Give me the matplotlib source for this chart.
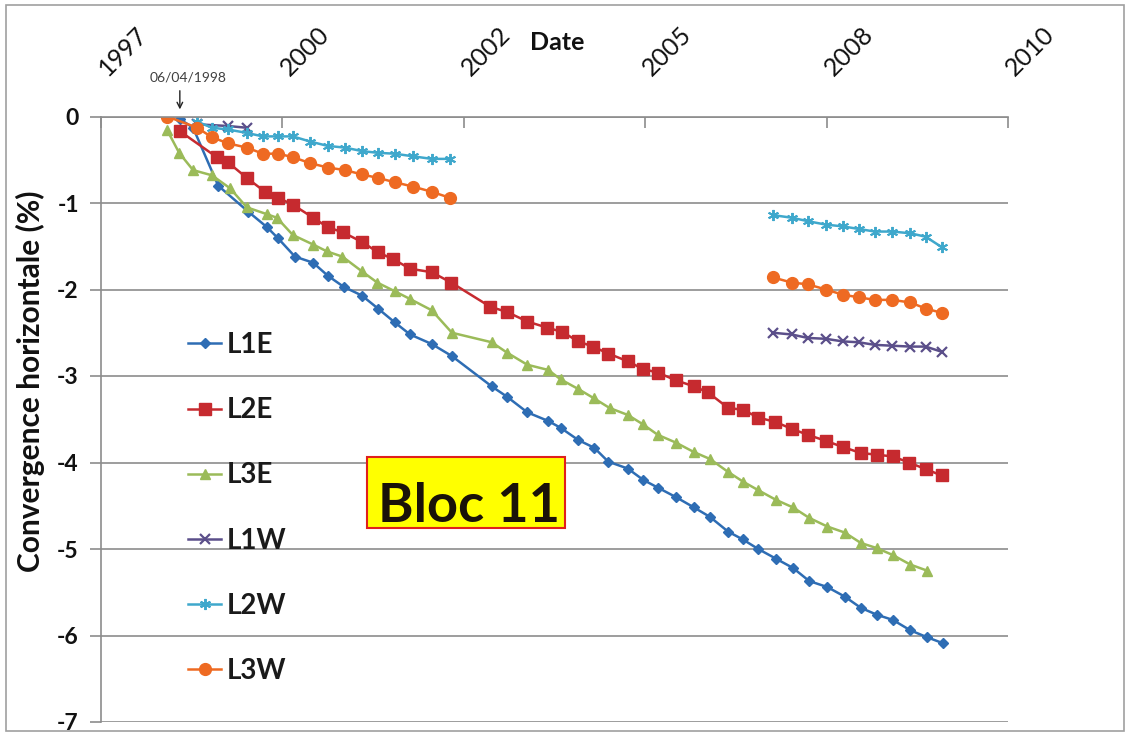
import numpy as np
import matplotlib.pyplot as plt
from matplotlib.patches import Rectangle
from matplotlib.transforms import offset_copy

plt.rcParams["font.family"] = ["Lato", "DejaVu Sans"]
plt.rcParams["axes.unicode_minus"] = False

nan = np.nan

# dates as decimal years, convergence in %
l1e_x = [1998.73, 1998.92, 1999.28, 1999.71, 1999.98, 2000.14, 2000.38, 2000.64, 2000.85,
         2001.08, 2001.34, 2001.57, 2001.81, 2002.03, 2002.34, 2002.63, 2003.20, 2003.42,
         2003.71, 2004.01, 2004.19, 2004.44, 2004.67, 2004.87, 2005.15, 2005.37, 2005.58,
         2005.84, 2006.10, 2006.33, 2006.59, 2006.80, 2007.02, 2007.27, 2007.52, 2007.75,
         2008.01, 2008.26, 2008.49, 2008.72, 2008.95, 2009.20, 2009.44, 2009.67]
l1e_y = [-0.03, -0.13, -0.80, -1.10, -1.28, -1.41, -1.62, -1.69, -1.84,
         -1.97, -2.07, -2.22, -2.38, -2.52, -2.63, -2.77, -3.12, -3.24,
         -3.42, -3.52, -3.60, -3.74, -3.83, -3.99, -4.07, -4.20, -4.29,
         -4.40, -4.52, -4.63, -4.80, -4.89, -5.00, -5.11, -5.22, -5.37,
         -5.44, -5.55, -5.68, -5.76, -5.82, -5.94, -6.02, -6.09]

l2e_x = [1998.73, 1999.26, 1999.42, 1999.69, 1999.95, 2000.14, 2000.35, 2000.64, 2000.85,
         2001.07, 2001.34, 2001.57, 2001.79, 2002.03, 2002.34, 2002.62, 2003.18, 2003.42,
         2003.71, 2003.99, 2004.21, 2004.44, 2004.65, 2004.87, 2005.15, 2005.37, 2005.58,
         2005.84, 2006.10, 2006.30, 2006.59, 2006.80, 2007.02, 2007.26, 2007.50, 2007.73,
         2007.99, 2008.23, 2008.49, 2008.72, 2008.95, 2009.18, 2009.43, 2009.65]
l2e_y = [-0.17, -0.47, -0.53, -0.71, -0.87, -0.94, -1.02, -1.17, -1.28,
         -1.34, -1.45, -1.57, -1.65, -1.76, -1.80, -1.92, -2.20, -2.26,
         -2.37, -2.44, -2.49, -2.60, -2.66, -2.74, -2.83, -2.92, -2.96,
         -3.05, -3.12, -3.19, -3.37, -3.39, -3.48, -3.53, -3.61, -3.68,
         -3.75, -3.82, -3.89, -3.91, -3.93, -4.00, -4.08, -4.15]

l3e_x = [1998.55, 1998.72, 1998.92, 1999.19, 1999.45, 1999.69, 1999.98, 2000.12, 2000.35,
         2000.64, 2000.84, 2001.06, 2001.34, 2001.56, 2001.81, 2002.03, 2002.34, 2002.63,
         2003.20, 2003.42, 2003.71, 2004.01, 2004.19, 2004.44, 2004.67, 2004.89, 2005.15,
         2005.37, 2005.58, 2005.84, 2006.10, 2006.33, 2006.59, 2006.80, 2007.02, 2007.27,
         2007.52, 2007.75, 2008.01, 2008.26, 2008.49, 2008.72, 2008.95, 2009.20, 2009.44]
l3e_y = [-0.16, -0.42, -0.62, -0.68, -0.83, -1.05, -1.13, -1.17, -1.37,
         -1.48, -1.56, -1.62, -1.79, -1.92, -2.02, -2.11, -2.24, -2.50,
         -2.61, -2.73, -2.87, -2.93, -3.04, -3.15, -3.26, -3.37, -3.45,
         -3.56, -3.68, -3.77, -3.88, -3.96, -4.11, -4.22, -4.32, -4.43,
         -4.52, -4.64, -4.74, -4.81, -4.93, -4.99, -5.07, -5.18, -5.25]

# west side: two campaigns with a gap in between
late_x = [2007.23, 2007.50, 2007.73, 2007.99, 2008.23, 2008.46, 2008.69, 2008.94,
          2009.20, 2009.42, 2009.65]
early_x = [1998.98, 1999.19, 1999.42, 1999.69, 1999.92, 2000.14, 2000.35, 2000.60,
           2000.85, 2001.10, 2001.34, 2001.57, 2001.81, 2002.07, 2002.34, 2002.60]

l1w_x = [1998.98, 1999.42, 1999.69, nan] + late_x
l1w_y = [-0.09, -0.11, -0.13, nan,
         -2.50, -2.52, -2.56, -2.57, -2.60, -2.61, -2.64, -2.65, -2.66, -2.66, -2.72]

l2w_x = early_x + [nan] + late_x
l2w_y = [-0.06, -0.13, -0.15, -0.19, -0.23, -0.23, -0.23, -0.29,
         -0.34, -0.36, -0.40, -0.42, -0.43, -0.46, -0.49, -0.49, nan,
         -1.14, -1.17, -1.21, -1.25, -1.27, -1.30, -1.33, -1.33, -1.35, -1.39, -1.51]

l3w_x = [1998.55] + early_x + [nan] + late_x
l3w_y = [0.00, -0.13, -0.24, -0.31, -0.36, -0.43, -0.43, -0.47, -0.54,
         -0.59, -0.62, -0.67, -0.71, -0.76, -0.81, -0.87, -0.94, nan,
         -1.86, -1.92, -1.94, -2.00, -2.06, -2.09, -2.12, -2.12, -2.15, -2.22, -2.27]

tick_pos = [1997.6, 2000.2, 2002.8, 2005.4, 2008.0, 2010.6]
tick_labels = ["1997", "2000", "2002", "2005", "2008", "2010"]

GRID = "#8c8c8c"

fig = plt.figure(figsize=(11.26, 7.39), dpi=100)
ax = fig.add_axes([101 / 1126, 1 - 722 / 739, 907 / 1126, 605.5 / 739])

series = [
    ("L1E", l1e_x, l1e_y, "#2E6DB4", "D", 5, {}),
    ("L2E", l2e_x, l2e_y, "#C62A2F", "s", 8, {}),
    ("L3E", l3e_x, l3e_y, "#9BBB59", "^", 7.5, {}),
    ("L1W", l1w_x, l1w_y, "#5B4F8A", "x", 7, {"mew": 1.6}),
    ("L2W", l2w_x, l2w_y, "#3FA8CC", (6, 2, 0), 8, {"mew": 1.4}),
    ("L3W", l3w_x, l3w_y, "#EE6A22", "o", 8.5, {}),
]
for name, xs, ys, col, mk, ms, extra in series:
    ax.plot(xs, ys, color=col, lw=1.8, marker=mk, ms=ms, mfc=col, mec=col,
            label=name, **extra)

ax.set_xlim(tick_pos[0], tick_pos[-1])
ax.set_ylim(-7, 0)
ax.set_yticks(range(-7, 1))
ax.set_yticklabels([str(v) for v in range(-7, 1)])
for lbl in ax.get_yticklabels():
    lbl.set_fontweight("bold")
ax.tick_params(axis="y", direction="out", length=8, width=1.2, color=GRID,
               pad=8, labelsize=16.5, labelcolor="#111111")

ax.xaxis.tick_top()
ax.set_xticks(tick_pos)
ax.set_xticklabels([])
ax.tick_params(axis="x", direction="in", length=8, width=1.2, color=GRID)
lab_tr = offset_copy(ax.get_xaxis_transform(), fig=fig, x=10, y=37, units="dots")
for t, lbl in zip(tick_pos, tick_labels):
    ax.text(t, 1.0, lbl, transform=lab_tr, rotation=45, rotation_mode="anchor",
            ha="left", va="bottom", fontsize=18, color="#111111", clip_on=False)

ax.yaxis.grid(True, color=GRID, lw=1.2)
ax.set_axisbelow(True)
for s in ["right", "bottom"]:
    ax.spines[s].set_visible(False)
for s in ["left", "top"]:
    ax.spines[s].set_color(GRID)
    ax.spines[s].set_linewidth(1.2)

fig.text(557 / 1126, 1 - 42 / 739, "Date", ha="center", va="center",
         fontsize=18, fontweight="bold", color="#111111")
fig.text(30 / 1126, 1 - 381 / 739, "Convergence horizontale (%)", rotation=90,
         ha="center", va="center", fontsize=21.5, fontweight="bold", color="#111111")

ax.legend(loc="upper left", bbox_to_anchor=(0.0959, 0.644), frameon=False,
          prop={"size": 20, "weight": "bold"}, labelspacing=1.41,
          handlelength=1.2, handletextpad=0.2, borderpad=0, borderaxespad=0,
          numpoints=1, labelcolor="#1a1a1a")

# date annotation for the first measurement
ax.text(1998.85, 0.456, "06/04/1998", ha="center", va="center", fontsize=10,
        color="#404040", clip_on=False)
ax.annotate("", xy=(1998.73, 0.05), xytext=(1998.73, 0.33),
            arrowprops=dict(arrowstyle="->", color="#222222", lw=1),
            annotation_clip=False)

# "Bloc 11" label box
ax.add_patch(Rectangle((0.2933, 0.3204), 0.2183, 0.1173, transform=ax.transAxes,
                       facecolor="#FFFF00", edgecolor="#E0201B", lw=1.5, zorder=5))
ax.text(0.4057, 0.3308, "Bloc 11", transform=ax.transAxes, ha="center",
        va="baseline", fontsize=39, fontweight="bold", color="#1a1208", zorder=6)

fig.add_artist(Rectangle((6 / 1126, 1 - 731 / 739), 1118 / 1126, 726 / 739,
                         transform=fig.transFigure, fill=False,
                         edgecolor="#a0a0a0", lw=1.2))

fig.savefig("out.png", dpi=100)
